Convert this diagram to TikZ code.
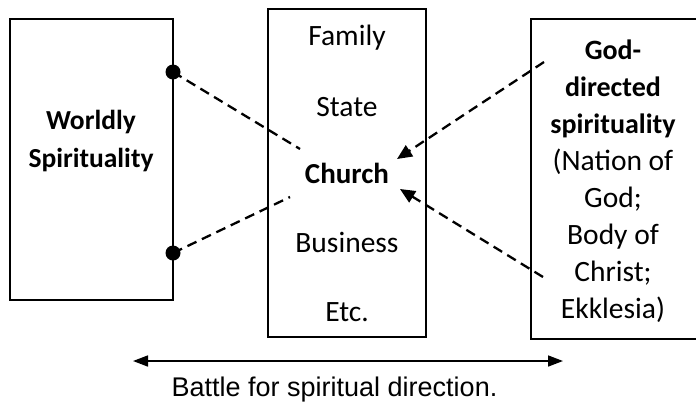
\documentclass[tikz,border=0pt]{standalone}
\usepackage{fontspec}
\setmainfont{Carlito}
\newfontfamily\arialf{Liberation Sans}
\usetikzlibrary{arrows.meta}
\begin{document}
\begin{tikzpicture}[x=1pt,y=-1pt,
  box/.style={draw, line width=1.6pt, inner sep=0pt},
  boxtext/.style={font=\fontsize{29.5}{37}\selectfont, align=center, inner sep=0pt},
  dot/.style={circle, fill=black, inner sep=0pt, minimum size=15pt},
  dashline/.style={line width=2.3pt, dash pattern=on 10pt off 6pt},
  dasharrow/.style={dashline, -{Triangle[length=15pt,width=13pt]}},
  battlearrow/.style={line width=1.6pt, {Triangle[length=15pt,width=11pt]}-{Triangle[length=15pt,width=11pt]}}
]
\useasboundingbox (0,0) rectangle (696,410);
\clip (0,0) rectangle (696,410);

% boxes
\node[box, minimum width=163pt, minimum height=281pt] (left) at (91.5,159.5) {};
\node[box, minimum width=158pt, minimum height=328pt] (mid) at (347,173) {};
\node[box, minimum width=179pt, minimum height=320pt] (right) at (620.5,179) {};

% left text
\node[boxtext, font=\fontsize{27.5}{38}\selectfont\bfseries] (wtext) at (91,141) {Worldly\\Spirituality};

% middle texts
\node[boxtext] (family) at (347,38) {Family};
\node[boxtext] (state) at (347,107) {State};
\node[boxtext, font=\fontsize{29}{37}\selectfont\bfseries] (church) at (347,173) {Church};
\node[boxtext] (business) at (347,242) {Business};
\node[boxtext] (etc) at (347,312) {Etc.};

% right text
\node[boxtext] (gtext) at (613,181) {{\fontsize{28}{37}\selectfont\bfseries God-}\\{\fontsize{28}{37}\selectfont\bfseries directed}\\{\fontsize{28}{37}\selectfont\bfseries spirituality}\\(Nation of\\God;\\Body of\\Christ;\\Ekklesia)};

% dots and dashed lines
\node[dot] (d1) at (173,72) {};
\node[dot] (d2) at (173,253) {};
\coordinate (e1) at (300,149);
\coordinate (e2) at (290,197);
\draw[dashline] (d1.center) -- (e1);
\draw[dashline] (d2.center) -- (e2);

% arrows from right
\coordinate (s1) at (544,62);
\coordinate (t1) at (397,159);
\coordinate (s2) at (543,277);
\coordinate (t2) at (400,189);
\draw[dasharrow] (s1) -- (t1);
\draw[dasharrow] (s2) -- (t2);

% battle arrow
\coordinate (bl) at (133,361);
\coordinate (br) at (563,361);
\draw[battlearrow] (bl) -- (br);
\node[font=\arialf\fontsize{27}{30}\selectfont, inner sep=0pt] (battle) at (334.5,390) {Battle for spiritual direction.};
\end{tikzpicture}
\end{document}
